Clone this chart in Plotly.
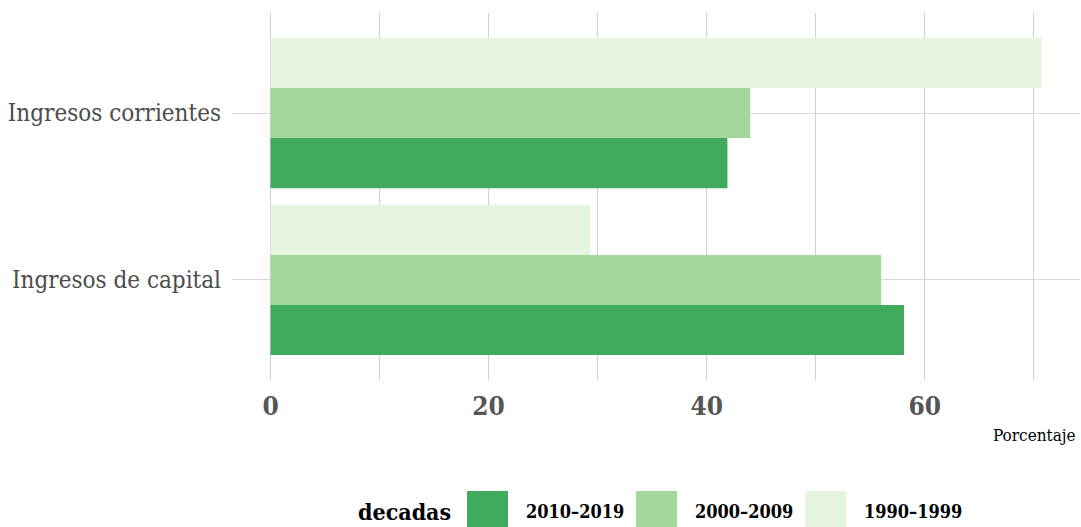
import plotly.graph_objects as go

categories = ["Ingresos de capital", "Ingresos corrientes"]
decades = ["2010–2019", "2000–2009", "1990–1999"]
colors = ["#41AB5D", "#A3D89A", "#E5F5E0"]
values_2010 = [58.1, 41.9]
values_2000 = [56.0, 44.0]
values_1990 = [29.3, 70.7]
series = [values_2010, values_2000, values_1990]
x_ticks = [0, 20, 40, 60]

FONT = "DejaVu Serif Condensed"
W, H = 1081, 527
ML, MR, MT, MB = 232, 1, 13, 147
PW, PH = W - ML - MR, H - MT - MB

def px(x):
    return (x - ML) / PW

def py(y):
    return (H - MB - y) / PH

fig = go.Figure()
for name, vals, col in zip(decades, series, colors):
    fig.add_trace(go.Bar(y=categories, x=vals, name=name, orientation="h",
                         marker=dict(color=col, line=dict(width=0)), showlegend=False))

xmax = max(max(s) for s in series)
pad = xmax * 0.05

fig.update_layout(
    width=W, height=H,
    margin=dict(l=ML, r=MR, t=MT, b=MB, autoexpand=False),
    plot_bgcolor="white", paper_bgcolor="white",
    barmode="group", bargap=0.1, bargroupgap=0,
    xaxis=dict(range=[-pad, xmax + pad], tickvals=x_ticks, showgrid=True,
               gridcolor="#d0d0d0", gridwidth=1, zeroline=False, automargin=False,
               minor=dict(dtick=10, tick0=0, showgrid=True, gridcolor="#d0d0d0", gridwidth=1),
               tickfont=dict(family=FONT, size=26, color="#555555", weight="bold"),
               ticklabelstandoff=8, showline=False),
    yaxis=dict(type="category", range=[-0.6, 1.6], showgrid=True, gridcolor="#d8d8d8",
               gridwidth=1, zeroline=False, automargin=False,
               tickfont=dict(family=FONT, size=24, color="#4d4d4d"),
               ticklabelstandoff=10, showline=False),
    font=dict(family=FONT),
)

fig.add_annotation(text="Porcentaje", xref="paper", yref="paper", x=px(1078), y=py(435),
                   xanchor="right", yanchor="middle", showarrow=False,
                   font=dict(family=FONT, size=17, color="black"))

# legend drawn manually
fig.add_annotation(text="decadas", xref="paper", yref="paper", x=px(356), y=py(511),
                   xanchor="left", yanchor="middle", showarrow=False,
                   font=dict(family=FONT, size=23, color="black", weight="bold"))
key_x = [467, 636, 805]
for kx, name, col in zip(key_x, decades, colors):
    fig.add_shape(type="rect", xref="paper", yref="paper",
                  x0=px(kx), x1=px(kx + 41), y0=py(491), y1=py(532),
                  fillcolor=col, line=dict(width=0))
    fig.add_annotation(text=name, xref="paper", yref="paper", x=px(kx + 57), y=py(511),
                       xanchor="left", yanchor="middle", showarrow=False,
                       font=dict(family=FONT, size=18, color="black", weight="bold"))

fig.write_html("out.html", config={"displayModeBar": False},
               post_script="document.body.style.margin='0';document.body.style.overflow='hidden';")
